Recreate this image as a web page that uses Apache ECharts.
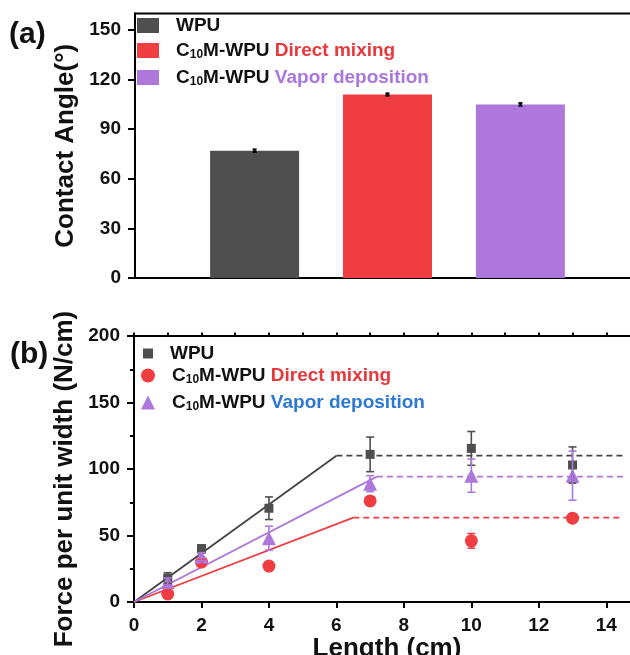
<!DOCTYPE html>
<html>
<head>
<meta charset="utf-8">
<script src="https://cdn.jsdelivr.net/npm/echarts@6/dist/echarts.min.js"></script>
<style>
  html, body { margin: 0; padding: 0; background: #fff; }
  #chart { width: 630px; height: 655px; }
</style>
</head>
<body>
<div id="chart"></div>
<script>
// (a) contact angle bars
const barPos = [1, 2, 3]
const angleMean = [77, 111, 105]
const angleErr = [0.8, 0.7, 0.8]

// (b) force per unit width vs length
const lengths = [1, 2, 4, 7, 10, 13]
const wpuForce = [18, 40, 70.5, 111, 115.5, 103]
const wpuErr = [4, 3, 8.5, 13, 12.7, 13.6]
const mixForce = [6, 30, 27, 76, 46, 63]
const mixErr = [2, 2, 2, 3, 5.5, 2]
const vapForce = [15, 34, 48, 89, 95, 95]
const vapErr = [3, 3, 9, 6, 12.5, 18.5]

// fit lines: linear rise up to the knee, then plateau (dashed)
const wpuKnee = [6, 110]
const mixKnee = [6.5, 63.4]
const vapKnee = [7.2, 94.3]
const plateauEnd = 14.5

const FONT = '"Liberation Sans", Arial, sans-serif'
const GRAY = '#4f4f4f'
const RED = '#ef3d42'
const PURPLE = '#ad77dc'
const BLUE = '#2c78d6'

const base = { fontSize: 19, fontWeight: 'bold', fontFamily: FONT, color: '#111' }
const rich = {
  sp: { width: 12 },
  b: { ...base },
  sub: { ...base, fontSize: 12, padding: [9, 0, 0, 0] },
  red: { ...base, color: '#e8383d' },
  pur: { ...base, color: '#a876dc' },
  blue: { ...base, color: BLUE }
}

function legendRow(name, icon, left, top, w, h, text) {
  return {
    data: [{ name, icon }],
    left, top, padding: 0,
    itemWidth: w, itemHeight: h,
    selectedMode: false,
    formatter: () => text,
    textStyle: { rich }
  }
}

function errorBars(xs, ys, errs, color, axis, cap, lw, z) {
  return {
    type: 'custom',
    xAxisIndex: axis, yAxisIndex: axis, z,
    silent: true,
    data: xs.map((x, i) => [x, ys[i] - errs[i], ys[i] + errs[i]]),
    renderItem: (params, api) => {
      const lo = api.coord([api.value(0), api.value(1)])
      const hi = api.coord([api.value(0), api.value(2)])
      const style = { stroke: color, lineWidth: lw }
      return {
        type: 'group',
        children: [
          { type: 'line', shape: { x1: lo[0], y1: lo[1], x2: hi[0], y2: hi[1] }, style },
          { type: 'line', shape: { x1: lo[0] - cap, y1: lo[1], x2: lo[0] + cap, y2: lo[1] }, style },
          { type: 'line', shape: { x1: hi[0] - cap, y1: hi[1], x2: hi[0] + cap, y2: hi[1] }, style }
        ]
      }
    }
  }
}

function fitLines(knee, color) {
  return [
    { type: 'line', xAxisIndex: 1, yAxisIndex: 1, data: [[0, 0], knee], symbol: 'none', silent: true, z: 2,
      lineStyle: { color, width: 1.8 } },
    { type: 'line', xAxisIndex: 1, yAxisIndex: 1, data: [knee, [plateauEnd, knee[1]]], symbol: 'none', silent: true, z: 2,
      lineStyle: { color, width: 1.8, type: [6, 4] } }
  ]
}

const axisLineBlack = { show: true, lineStyle: { color: '#000', width: 2 } }
const tickLabel = { fontSize: 19, fontWeight: 'bold', fontFamily: FONT, color: '#111' }
const titleStyle = { fontSize: 26, fontWeight: 'bold', fontFamily: FONT, color: '#111' }

const chart = echarts.init(document.getElementById('chart'))
chart.setOption({
  animation: false,
  backgroundColor: '#fff',
  grid: [
    { left: 135, width: 505, top: 13.5, height: 264.5, outerBoundsMode: 'none', containLabel: false,
      show: true, borderColor: '#000', borderWidth: 2 },
    { left: 134, width: 506, top: 336, height: 266, outerBoundsMode: 'none', containLabel: false,
      show: true, borderColor: '#000', borderWidth: 2 }
  ],
  xAxis: [
    { type: 'value', gridIndex: 0, min: 0.1, max: 3.9, axisLine: axisLineBlack,
      axisTick: { show: false }, axisLabel: { show: false }, splitLine: { show: false } },
    { type: 'value', gridIndex: 1, min: 0, max: 15, interval: 2, axisLine: axisLineBlack,
      axisTick: { show: true, length: 6, lineStyle: { width: 2, color: '#000' } },
      axisLabel: { ...tickLabel, margin: 14, showMaxLabel: false },
      splitLine: { show: false },
      name: 'Length (cm)', nameLocation: 'middle', nameGap: 28, nameTextStyle: titleStyle },
    { type: 'value', gridIndex: 1, min: 0, max: 15, interval: 1, axisLine: { show: false },
      axisTick: { show: true, length: 3.5, lineStyle: { width: 2, color: '#000' } },
      axisLabel: { show: false }, splitLine: { show: false } }
  ],
  yAxis: [
    { type: 'value', gridIndex: 0, min: 0, max: 160, interval: 30, axisLine: axisLineBlack,
      axisTick: { show: true, length: 7, lineStyle: { width: 2, color: '#000' } },
      axisLabel: { ...tickLabel, margin: 14, showMaxLabel: false },
      splitLine: { show: false },
      name: 'Contact Angle(°)', nameLocation: 'middle', nameGap: 56, nameTextStyle: titleStyle },
    { type: 'value', gridIndex: 1, min: 0, max: 200, interval: 50, axisLine: axisLineBlack,
      axisTick: { show: true, length: 7, lineStyle: { width: 2, color: '#000' } },
      minorTick: { show: true, splitNumber: 2, length: 4, lineStyle: { width: 2, color: '#000' } },
      axisLabel: { ...tickLabel, margin: 14 },
      splitLine: { show: false },
      name: 'Force per unit width (N/cm)', nameLocation: 'middle', nameGap: 56,
      nameTextStyle: { ...titleStyle, padding: [0, 20, 0, 0] } }
  ],
  legend: [
    legendRow('aWPU', 'rect', 137, 16, 22, 15, '{sp|}{b|WPU}'),
    legendRow('aMix', 'rect', 137, 41, 22, 15, '{sp|}{b|C}{sub|10}{b|M-WPU }{red|Direct mixing}'),
    legendRow('aVap', 'rect', 137, 68, 22, 15, '{sp|}{b|C}{sub|10}{b|M-WPU }{pur|Vapor deposition}'),
    legendRow('bWPU', 'rect', 143, 344, 10, 10, '{sp|}{b|WPU}'),
    legendRow('bMix', 'circle', 141, 366, 14, 14, '{sp|}{b|C}{sub|10}{b|M-WPU }{red|Direct mixing}'),
    legendRow('bVap', 'triangle', 141, 393, 14, 14, '{sp|}{b|C}{sub|10}{b|M-WPU }{blue|Vapor deposition}')
  ],
  graphic: [
    { type: 'text', left: 9, top: 20, style: { text: '(a)', font: 'bold 30px ' + FONT, fill: '#111' } },
    { type: 'text', left: 10, top: 340, style: { text: '(b)', font: 'bold 30px ' + FONT, fill: '#111' } }
  ],
  series: [
    { name: 'aWPU', type: 'bar', xAxisIndex: 0, yAxisIndex: 0, barWidth: 89, barGap: '-100%',
      data: [[barPos[0], angleMean[0]]], itemStyle: { color: GRAY } },
    { name: 'aMix', type: 'bar', xAxisIndex: 0, yAxisIndex: 0, barWidth: 89, barGap: '-100%',
      data: [[barPos[1], angleMean[1]]], itemStyle: { color: RED } },
    { name: 'aVap', type: 'bar', xAxisIndex: 0, yAxisIndex: 0, barWidth: 89, barGap: '-100%',
      data: [[barPos[2], angleMean[2]]], itemStyle: { color: PURPLE } },
    errorBars(barPos, angleMean, angleErr, '#000', 0, 2, 2, 5),

    ...fitLines(wpuKnee, '#444'),
    ...fitLines(mixKnee, RED),
    ...fitLines(vapKnee, PURPLE),

    { name: 'bWPU', type: 'scatter', xAxisIndex: 1, yAxisIndex: 1, symbol: 'rect', symbolSize: 9, z: 4,
      data: lengths.map((x, i) => [x, wpuForce[i]]), itemStyle: { color: GRAY, opacity: 1 } },
    { name: 'bMix', type: 'scatter', xAxisIndex: 1, yAxisIndex: 1, symbol: 'circle', symbolSize: 13, z: 4,
      data: lengths.map((x, i) => [x, mixForce[i]]), itemStyle: { color: RED, opacity: 1 } },
    { name: 'bVap', type: 'scatter', xAxisIndex: 1, yAxisIndex: 1, symbol: 'triangle', symbolSize: 14, z: 4,
      data: lengths.map((x, i) => [x, vapForce[i]]), itemStyle: { color: PURPLE, opacity: 1 } },
    errorBars(lengths, wpuForce, wpuErr, GRAY, 1, 4, 1.6, 5),
    errorBars(lengths, mixForce, mixErr, RED, 1, 4, 1.6, 5),
    errorBars(lengths, vapForce, vapErr, PURPLE, 1, 4, 1.6, 5)
  ]
})
</script>
</body>
</html>
